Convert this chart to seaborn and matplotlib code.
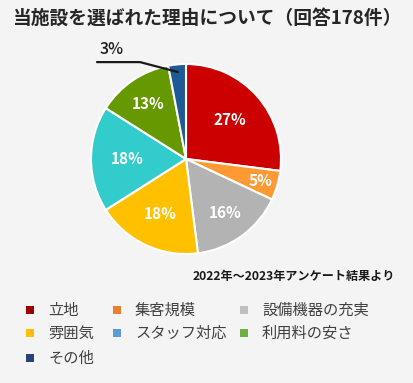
import numpy as np
import matplotlib
matplotlib.use("Agg")
import matplotlib.pyplot as plt
import seaborn as sns
from matplotlib.patches import Rectangle

sns.set_theme(style="white")
plt.rcParams['font.family'] = ['Noto Sans CJK JP', 'DejaVu Sans']

categories = ["立地", "集客規模", "設備機器の充実", "雰囲気", "スタッフ対応", "利用料の安さ", "その他"]
values = [27, 5, 16, 18, 18, 13, 3]
pie_colors = ["#CC0000", "#FF9933", "#B3B3B3", "#FFC000", "#33CCCC", "#669900", "#1F5A96"]
legend_colors = ["#990000", "#ED7D31", "#BFBFBF", "#FFC000", "#5B9BD5", "#70AD47", "#264478"]
title = "当施設を選ばれた理由について（回答178件）"
note = "2022年〜2023年アンケート結果より"

W, H = 413, 383
bg = "#F4F4F4"
fig = plt.figure(figsize=(W / 100, H / 100), dpi=100, facecolor=bg)

cx, cy, r = 186, 159, 95
ax = fig.add_axes([(cx - r) / W, (H - cy - r) / H, 2 * r / W, 2 * r / H])
ax.set_facecolor(bg)

label_dist = [0.62, 0.82, 0.70, 0.64, 0.62, 0.70, None]
wedges, _ = ax.pie(values, colors=pie_colors, startangle=90, counterclock=False,
                   radius=1, wedgeprops=dict(edgecolor="white", linewidth=1.5))
ax.set_xlim(-1, 1)
ax.set_ylim(-1, 1)
ax.axis("off")

for w, v, d in zip(wedges, values, label_dist):
    ang = np.deg2rad((w.theta1 + w.theta2) / 2)
    if d is not None:
        ax.text(d * np.cos(ang), d * np.sin(ang), f"{v}%", color="white",
                fontsize=11, fontweight="bold", ha="center", va="center")
    else:
        x0, y0 = 0.92 * np.cos(ang), 0.92 * np.sin(ang)
        ax.plot([x0, -0.484, -0.937], [y0, 1.02, 1.02], color="#1a1a1a",
                linewidth=1.6, clip_on=False)
        ax.text(-0.78, 1.15, f"{v}%", color="#1a1a1a", fontsize=11.5,
                fontweight="medium", ha="center", va="center", clip_on=False)

fig.text(12 / W, 1 - 18 / H, title, fontsize=13.5, fontweight="bold",
         color="#262626", ha="left", va="center")
fig.text(395 / W, 1 - 276 / H, note, fontsize=8.7, fontweight="bold",
         color="#1a1a1a", ha="right", va="center")

col_x = [26, 113, 240]
row_y = [310, 333, 358]
sq = 8
for i, (cat, col) in enumerate(zip(categories, legend_colors)):
    rr, cc = divmod(i, 3)
    x, y = col_x[cc], row_y[rr]
    fig.patches.append(Rectangle((x / W, (H - y - sq / 2) / H), sq / W, sq / H,
                                 transform=fig.transFigure, facecolor=col,
                                 edgecolor="none"))
    fig.text((x + 22) / W, 1 - y / H, cat, fontsize=11, color="#404040",
             ha="left", va="center")

fig.savefig("out.png", dpi=100, facecolor=bg)
